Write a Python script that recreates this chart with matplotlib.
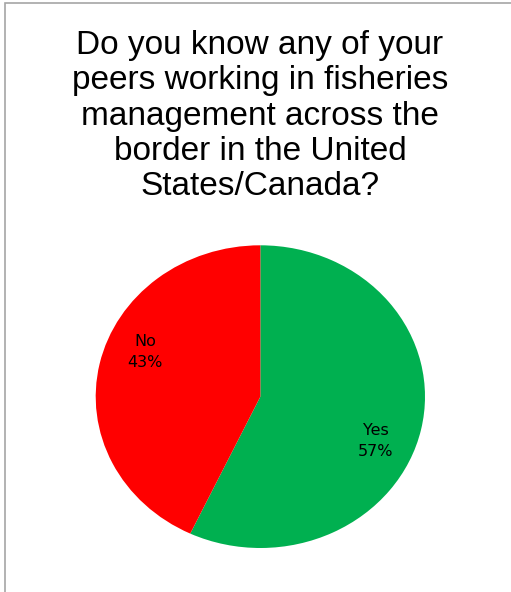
import numpy as np
import matplotlib
matplotlib.use('Agg')
import matplotlib.pyplot as plt
from matplotlib.patches import Rectangle

title = 'Do you know any of your\npeers working in fisheries\nmanagement across the\nborder in the United\nStates/Canada?'
labels = ['Yes', 'No']
values = [57, 43]
colors = ['#00B050', '#FF0000']

W, H = 511, 592
fig = plt.figure(figsize=(W / 100, H / 100), dpi=100)

# chart border (runs off the right and bottom edges)
fig.patches.append(Rectangle((4.7 / W, -0.05), 1.2, 1.05 - 3 / H,
                             transform=fig.transFigure, fill=False,
                             edgecolor='#A6A6A6', linewidth=1.2))

fig.text(260 / W, 1 - 116 / H, title, ha='center', va='center',
         fontsize=24, family='Liberation Sans', linespacing=1.18)

# pie area (slightly stretched horizontally like the original)
ax = fig.add_axes([95.7 / W, 44 / H, 329.3 / W, 302.7 / H])
wedges, _ = ax.pie(values, colors=colors, startangle=90, counterclock=False,
                   radius=1, wedgeprops=dict(linewidth=0))
ax.set_aspect('auto')
ax.set_xlim(-1, 1)
ax.set_ylim(-1, 1)

for w, lab, v in zip(wedges, labels, values):
    mid = np.deg2rad((w.theta1 + w.theta2) / 2 - 10)
    ax.text(0.76 * np.cos(mid), 0.76 * np.sin(mid), f'{lab}\n{v}%',
            ha='center', va='center', fontsize=11.5, linespacing=1.5,
            family='DejaVu Sans')

fig.savefig('out.png', dpi=100)
